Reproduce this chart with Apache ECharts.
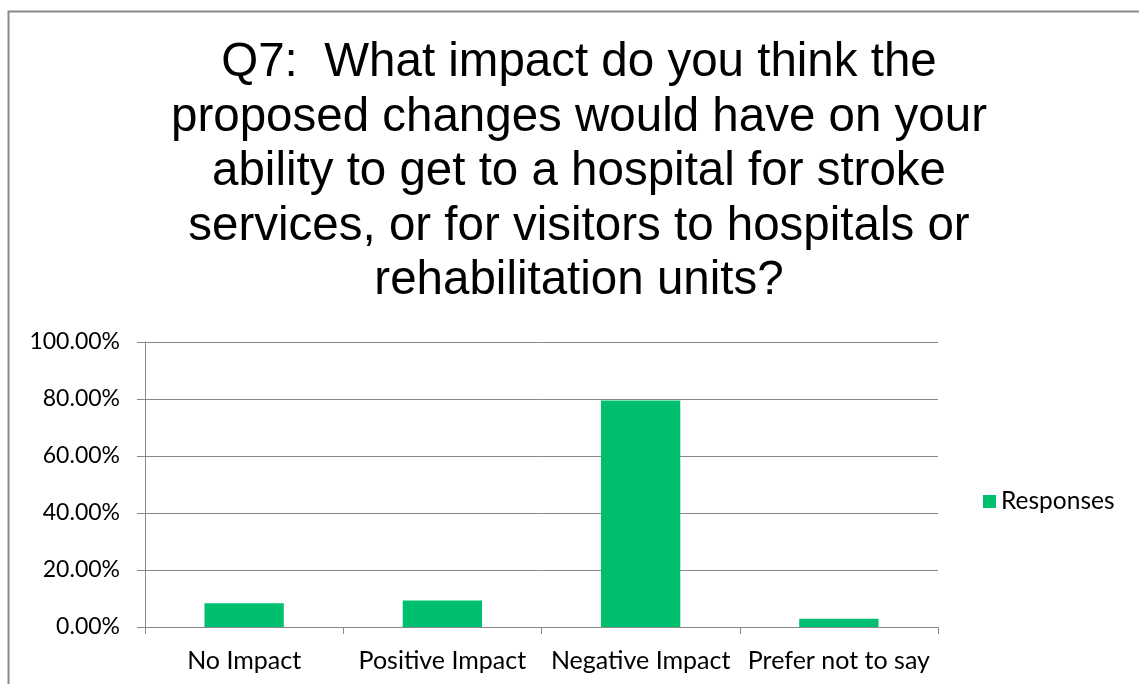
<!DOCTYPE html>
<html>
<head>
<meta charset="utf-8">
<script src="https://cdn.jsdelivr.net/npm/echarts@6/dist/echarts.min.js"></script>
<style>
  html, body { margin: 0; padding: 0; background: #fff; }
  #chart { width: 1139px; height: 684px; }
</style>
</head>
<body>
<div id="chart"></div>
<script>
// Survey question and answers
const titleLines = [
  'Q7:  What impact do you think the',
  'proposed changes would have on your',
  'ability to get to a hospital for stroke',
  'services, or for visitors to hospitals or',
  'rehabilitation units?'
];
const categories = ['No Impact', 'Positive Impact', 'Negative Impact', 'Prefer not to say'];
const seriesName = 'Responses';
const responses = [8.35, 9.3, 79.5, 2.9]; // percent of respondents
const yTicks = { min: 0, max: 100, interval: 20 };

const labelFont = 'Lato, "Open Sans", sans-serif';
const axisGray = '#898989';
const green = '#00BF6F';

const chart = echarts.init(document.getElementById('chart'), null, { renderer: 'canvas' });

chart.setOption({
  backgroundColor: '#ffffff',
  animation: false,
  graphic: [
    {
      type: 'rect',
      shape: { x: 8.5, y: 11.5, width: 1300, height: 900 },
      style: { fill: 'none', stroke: axisGray, lineWidth: 2 },
      silent: true,
      z: -1
    },
    {
      type: 'text',
      x: 579,
      y: 36,
      style: {
        text: titleLines.join('\n'),
        font: '47.5px "Liberation Sans", Arial, sans-serif',
        fill: '#000000',
        align: 'center',
        verticalAlign: 'top',
        lineHeight: 54.5
      }
    }
  ],
  legend: {
    data: [seriesName],
    orient: 'vertical',
    left: 983,
    top: 489,
    padding: 0,
    itemWidth: 13,
    itemHeight: 13,
    itemGap: 8,
    icon: 'rect',
    textStyle: { fontFamily: labelFont, fontSize: 24.5, color: '#000000' }
  },
  grid: { left: 145, right: 201, top: 342, bottom: 57, containLabel: false },
  xAxis: {
    type: 'category',
    data: categories,
    axisLine: { show: true, lineStyle: { color: axisGray, width: 1 } },
    axisTick: { show: true, length: 7, alignWithLabel: false, lineStyle: { color: axisGray } },
    axisLabel: { interval: 0, margin: 21, fontFamily: labelFont, fontSize: 25, color: '#000000' }
  },
  yAxis: {
    type: 'value',
    min: yTicks.min,
    max: yTicks.max,
    interval: yTicks.interval,
    axisLine: { show: true, lineStyle: { color: axisGray, width: 1 } },
    axisTick: { show: true, length: 8, lineStyle: { color: axisGray } },
    splitLine: { show: true, lineStyle: { color: axisGray, width: 1 } },
    axisLabel: {
      margin: 25,
      fontFamily: labelFont,
      fontSize: 23,
      color: '#000000',
      formatter: v => v.toFixed(2) + '%'
    }
  },
  series: [
    {
      name: seriesName,
      type: 'bar',
      data: responses,
      barWidth: '40%',
      itemStyle: { color: green }
    }
  ]
});
</script>
</body>
</html>
